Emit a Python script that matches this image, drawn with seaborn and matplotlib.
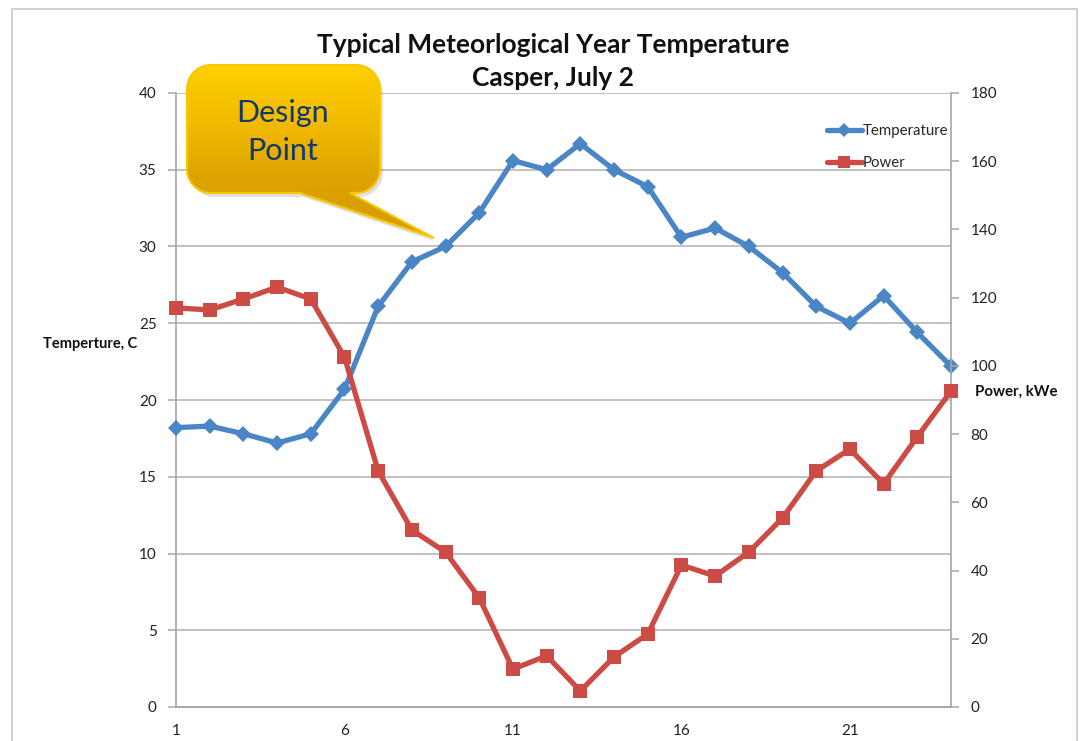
import numpy as np
import pandas as pd
import matplotlib
matplotlib.use("Agg")
import matplotlib.pyplot as plt
import seaborn as sns
from matplotlib.patches import Polygon
from matplotlib.lines import Line2D
from matplotlib.colors import LinearSegmentedColormap

# ---- data ----
hours = list(range(1, 25))
temperature = [18.2, 18.3, 17.8, 17.2, 17.8, 20.7, 26.1, 29.0, 30.0, 32.2, 35.6, 35.0,
               36.7, 35.0, 33.9, 30.6, 31.2, 30.0, 28.3, 26.1, 25.0, 26.8, 24.4, 22.2]
power = [117.0, 116.4, 119.6, 123.1, 119.6, 102.6, 69.2, 51.9, 45.4, 32.0, 11.1, 15.0,
         4.7, 14.7, 21.4, 41.6, 38.4, 45.4, 55.4, 69.2, 75.6, 65.4, 79.2, 92.6]
x_ticks = [1, 6, 11, 16, 21]
left_ticks = [0, 5, 10, 15, 20, 25, 30, 35, 40]
right_ticks = [0, 20, 40, 60, 80, 100, 120, 140, 160, 180]
title_lines = ["Typical Meteorlogical Year Temperature", "Casper, July 2"]
callout_text = "Design\nPoint"

BLUE = "#4A86C6"
RED = "#CC4B45"
GRID = "#BDBDBD"
SPINE = "#A6A6A6"

sns.set_style("white")
plt.rcParams['font.family'] = ['Lato', 'DejaVu Sans']

W, H = 1080, 741
fig = plt.figure(figsize=(W / 100, H / 100), dpi=100)
fig.patch.set_facecolor("white")

L, R, T, B = 176, 951, 93, 707
ax = fig.add_axes([L / W, 1 - B / H, (R - L) / W, (B - T) / H])
df = pd.DataFrame({"Hour": hours, "Temperature": temperature, "Power": power})

ax.set_axisbelow(True)
for v in left_ticks[1:]:
    ax.axhline(v, color=GRID, lw=1.3, zorder=0)

sns.lineplot(data=df, x="Hour", y="Temperature", ax=ax, color=BLUE, lw=3.8,
             marker="D", markersize=8.5, markeredgewidth=0, legend=False,
             clip_on=False, zorder=5)
ax.set_xlim(1, 24)
ax.set_ylim(0, 40)
ax.set_xticks(x_ticks)
ax.set_yticks(left_ticks)
ax.set_xlabel("")
ax.set_ylabel("")

ax2 = ax.twinx()
sns.lineplot(data=df, x="Hour", y="Power", ax=ax2, color=RED, lw=3.8,
             marker="s", markersize=10, markeredgewidth=0, legend=False,
             clip_on=False, zorder=5)
ax2.set_ylim(0, 180)
ax2.set_yticks(right_ticks)
ax2.set_ylabel("")
ax2.set_xlim(1, 24)

for a in (ax, ax2):
    a.spines["top"].set_visible(False)
    for s in ["left", "right", "bottom"]:
        a.spines[s].set_color(SPINE)
        a.spines[s].set_linewidth(1.2)
    a.tick_params(axis="both", length=6, width=1.1, color=SPINE, labelsize=11,
                  labelcolor="#222222", direction="out")
ax.spines["right"].set_visible(False)
ax2.spines["left"].set_visible(False)
ax.tick_params(axis="y", pad=8)
ax2.tick_params(axis="y", pad=8)
ax.tick_params(axis="x", pad=6)

# legend
handles = [Line2D([0], [0], color=BLUE, lw=3.8, marker="D", markersize=7, markeredgewidth=0),
           Line2D([0], [0], color=RED, lw=3.8, marker="s", markersize=8, markeredgewidth=0)]
fig.legend(handles, ["Temperature", "Power"], loc="upper left",
           bbox_to_anchor=(827 / W, 1 - 124 / H), frameon=False, fontsize=10.8,
           handlelength=2.3, handletextpad=0.1, labelspacing=1.2, borderpad=0,
           borderaxespad=0)

# titles and axis labels
fig.text(553 / W, 1 - 45 / H, title_lines[0], ha="center", va="center",
         fontsize=19, fontweight="bold", color="#111111")
fig.text(553 / W, 1 - 78 / H, title_lines[1], ha="center", va="center",
         fontsize=19, fontweight="bold", color="#111111")
fig.text(43 / W, 1 - 344 / H, "Temperture, C", ha="left", va="center",
         fontsize=10.5, fontweight="bold", color="#111111")
fig.text(975 / W, 1 - 392 / H, "Power, kWe", ha="left", va="center",
         fontsize=10.8, fontweight="bold", color="#111111")

# overlay in pixel coordinates for callout and frame
ov = fig.add_axes([0, 0, 1, 1], zorder=10)
ov.set_xlim(0, W)
ov.set_ylim(H, 0)
ov.axis("off")
ov.patch.set_alpha(0)

# chart frame
ov.plot([12, 12, 1077, 1077], [H + 5, 9, 9, H + 5], color="#C8C8C8", lw=1.2,
        solid_joinstyle="miter")

# callout shape
x0, x1, y0, y1, r = 187, 380, 65, 193, 24
def arc(cx, cy, t0, t1):
    t = np.radians(np.linspace(t0, t1, 20))
    return list(zip(cx + r * np.cos(t), cy + r * np.sin(t)))
pts = []
pts += arc(x1 - r, y0 + r, -90, 0)
pts += arc(x1 - r, y1 - r, 0, 90)
pts += [(350, y1), (434, 238), (300, y1)]
pts += arc(x0 + r, y1 - r, 90, 180)
pts += arc(x0 + r, y0 + r, 180, 270)

shadow = Polygon([(px + 3, py + 4) for px, py in pts], closed=True,
                 facecolor="#000000", alpha=0.12, edgecolor="none")
ov.add_patch(shadow)
shape = Polygon(pts, closed=True, facecolor="none", edgecolor="#F7C800", lw=1.5)
ov.add_patch(shape)
grad = np.linspace(0, 1, 256).reshape(-1, 1)
cmap = LinearSegmentedColormap.from_list("gold", ["#FFD000", "#F2BB00", "#DCA300", "#D49A00"])
im = ov.imshow(grad, cmap=cmap, extent=(x0 - 2, 440, 240, y0 - 2), aspect="auto",
               interpolation="bilinear", zorder=1)
im.set_clip_path(shape)
shape.set_zorder(2)
ov.text(283, 132, callout_text, ha="center", va="center", fontsize=22,
        color="#133A66", linespacing=1.45, zorder=3)
ov.set_xlim(0, W)
ov.set_ylim(H, 0)

fig.savefig("out.png", dpi=100, facecolor="white")
